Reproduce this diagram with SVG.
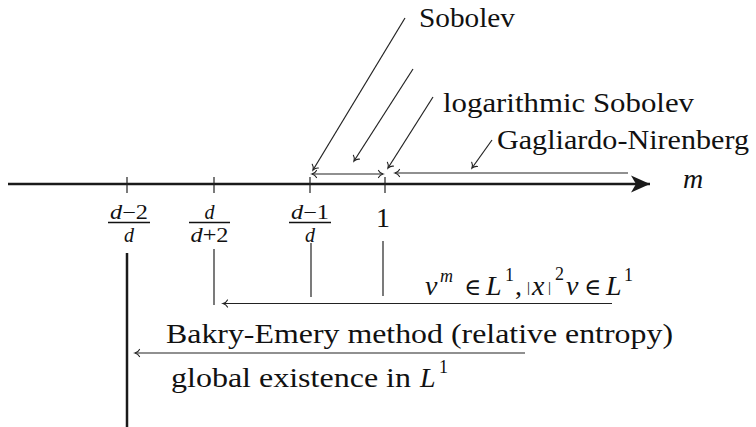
<svg xmlns="http://www.w3.org/2000/svg" width="756" height="427" viewBox="0 0 756 427">
<defs>
<marker id="to" viewBox="-6 -5 8 10" markerWidth="8" markerHeight="10" refX="0" refY="0" orient="auto-start-reverse" markerUnits="userSpaceOnUse">
<path d="M-4.5,-3.6 C-3.5,-1.6 -1.8,-0.5 0,0 C-1.8,0.5 -3.5,1.6 -4.5,3.6" stroke="#222" stroke-width="1.1" fill="none" stroke-linecap="round"/>
</marker>
<marker id="stealth" viewBox="-20 -10 22 20" markerWidth="22" markerHeight="20" refX="0" refY="0" orient="auto" markerUnits="userSpaceOnUse">
<path d="M0,0 L-19,-8.5 L-14,0 L-19,8.5 Z" fill="#1a1a1a"/>
</marker>
</defs>
<g id="connectors" stroke="#222" stroke-width="1.2" fill="none">
<line id="axis" stroke="#1a1a1a" stroke-width="2.5" x1="8" y1="184" x2="650" y2="184" marker-end="url(#stealth)"/>
<line x1="127" y1="177" x2="127" y2="193"/>
<line x1="214" y1="177" x2="214" y2="193"/>
<line x1="310" y1="177" x2="310" y2="193"/>
<line x1="385" y1="177" x2="385" y2="193"/>
<line x1="312" y1="174" x2="383" y2="174" marker-start="url(#to)" marker-end="url(#to)"/>
<line x1="628" y1="173" x2="395" y2="173" marker-end="url(#to)"/>
<line x1="405" y1="18" x2="313" y2="170" marker-end="url(#to)"/>
<line x1="413" y1="69" x2="354" y2="161" marker-end="url(#to)"/>
<line x1="433" y1="97" x2="388" y2="168" marker-end="url(#to)"/>
<line x1="492" y1="140" x2="472" y2="168" marker-end="url(#to)"/>
<line stroke="#1a1a1a" stroke-width="2.5" x1="127" y1="253" x2="127" y2="427"/>
<line x1="214" y1="249" x2="214" y2="305"/>
<line x1="311" y1="243" x2="311" y2="297"/>
<line x1="383" y1="241" x2="383" y2="296"/>
<line x1="612" y1="303.5" x2="223" y2="303.5" marker-end="url(#to)"/>
<line x1="525" y1="353" x2="135" y2="353" marker-end="url(#to)"/>
</g>
<g fill="#111">
<g id="sobolev"><text style="font-family:'Liberation Serif',serif !important;font-size:28px" x="419" y="27" textLength="96" lengthAdjust="spacingAndGlyphs">Sobolev</text></g>
<g id="log-sobolev"><text style="font-family:'Liberation Serif',serif !important;font-size:28px" x="443" y="112" textLength="251" lengthAdjust="spacingAndGlyphs">logarithmic Sobolev</text></g>
<g id="gagliardo"><text style="font-family:'Liberation Serif',serif !important;font-size:28px" x="497" y="149" textLength="252" lengthAdjust="spacingAndGlyphs">Gagliardo-Nirenberg</text></g>
<g id="m-label"><text style="font-family:'Liberation Serif',serif !important;font-size:28px;font-style:italic" x="683" y="188">m</text></g>
<g id="frac1">
<text style="font-family:'Liberation Serif',serif !important;font-size:20px" x="129" y="219" text-anchor="middle" textLength="38" lengthAdjust="spacingAndGlyphs"><tspan font-style="italic">d</tspan>−2</text>
<line x1="108" y1="222.5" x2="150" y2="222.5" stroke="#111" stroke-width="1.5"/>
<text style="font-family:'Liberation Serif',serif !important;font-size:20px;font-style:italic" x="129" y="242" text-anchor="middle">d</text>
</g>
<g id="frac2">
<text style="font-family:'Liberation Serif',serif !important;font-size:20px;font-style:italic" x="209.5" y="219" text-anchor="middle">d</text>
<line x1="189" y1="222.5" x2="230" y2="222.5" stroke="#111" stroke-width="1.5"/>
<text style="font-family:'Liberation Serif',serif !important;font-size:20px" x="209.5" y="242" text-anchor="middle" textLength="38" lengthAdjust="spacingAndGlyphs"><tspan font-style="italic">d</tspan>+2</text>
</g>
<g id="frac3">
<text style="font-family:'Liberation Serif',serif !important;font-size:20px" x="310" y="219" text-anchor="middle" textLength="38" lengthAdjust="spacingAndGlyphs"><tspan font-style="italic">d</tspan>−1</text>
<line x1="289" y1="222.5" x2="331" y2="222.5" stroke="#111" stroke-width="1.5"/>
<text style="font-family:'Liberation Serif',serif !important;font-size:20px;font-style:italic" x="310" y="242" text-anchor="middle">d</text>
</g>
<g id="one"><text style="font-family:'Liberation Serif',serif !important;font-size:28px" x="383" y="227" text-anchor="middle">1</text></g>
<g id="condition">
<text style="font-family:'Liberation Serif','DejaVu Serif',serif !important;font-size:28px"><tspan font-style="italic" x="425" y="295">v</tspan><tspan font-size="18" font-style="italic" x="440" y="282">m</tspan><tspan style="font-family:'DejaVu Serif',serif !important;font-size:23px" x="464" y="295">∈</tspan><tspan font-style="italic" x="486" y="295">L</tspan><tspan font-size="18" x="505" y="281">1</tspan><tspan x="515" y="295">,</tspan><tspan font-size="15" x="527" y="292">|</tspan><tspan font-style="italic" x="532" y="295">x</tspan><tspan font-size="15" x="548" y="292">|</tspan><tspan font-size="18" x="555" y="280">2</tspan><tspan font-style="italic" x="566" y="295">v</tspan><tspan style="font-family:'DejaVu Serif',serif !important;font-size:23px" x="584" y="295">∈</tspan><tspan font-style="italic" x="606" y="295">L</tspan><tspan font-size="18" x="624" y="281">1</tspan></text>
</g>
<g id="bakry"><text style="font-family:'Liberation Serif',serif !important;font-size:28px" x="166" y="343" textLength="507" lengthAdjust="spacingAndGlyphs">Bakry-Emery method (relative entropy)</text></g>
<g id="global">
<text style="font-family:'Liberation Serif',serif !important;font-size:28px"><tspan x="171" y="387" textLength="240" lengthAdjust="spacingAndGlyphs">global existence in</tspan><tspan font-style="italic" x="420" y="387">L</tspan><tspan font-size="18" x="439" y="373">1</tspan></text>
</g>
</g>
</svg>
